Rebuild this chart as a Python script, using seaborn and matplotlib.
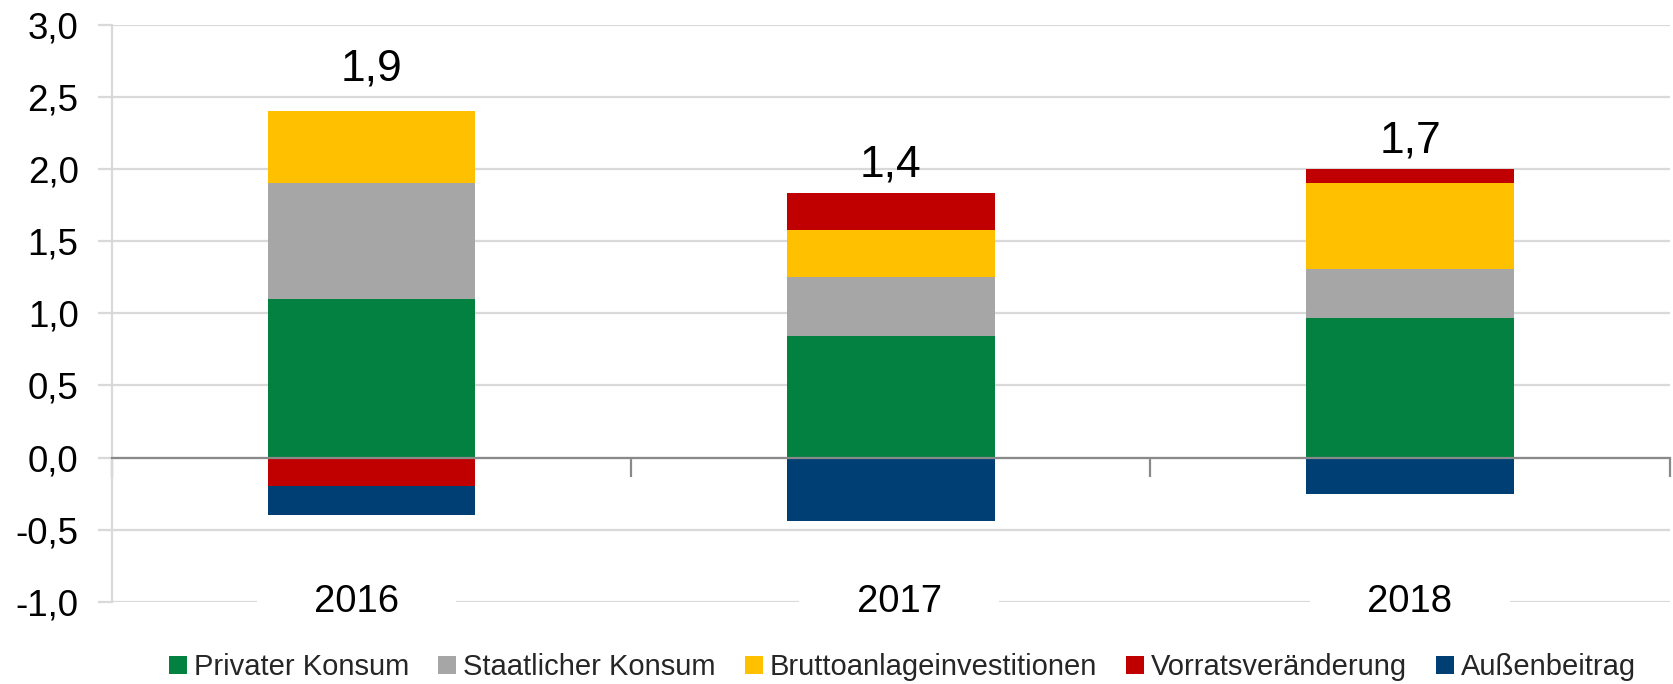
import numpy as np
import pandas as pd
import matplotlib
matplotlib.use("Agg")
import matplotlib.pyplot as plt
from matplotlib.lines import Line2D
import seaborn as sns

# ---- data ----
years = ["2016", "2017", "2018"]
series_names = ["Privater Konsum", "Staatlicher Konsum", "Bruttoanlageinvestitionen",
                "Vorratsveränderung", "Außenbeitrag"]
privater_konsum = [1.10, 0.84, 0.97]
staatlicher_konsum = [0.80, 0.41, 0.34]
bruttoanlageinvestitionen = [0.50, 0.33, 0.59]
vorratsveraenderung = [-0.20, 0.25, 0.10]
aussenbeitrag = [-0.20, -0.44, -0.25]
totals = [1.9, 1.4, 1.7]
y_ticks = [-1.0, -0.5, 0.0, 0.5, 1.0, 1.5, 2.0, 2.5, 3.0]

colors = ["#038141", "#a6a6a6", "#ffc000", "#c00000", "#003f74"]

sns.set_theme(style="white")
plt.rcParams["font.family"] = ["Liberation Sans", "DejaVu Sans"]

fig = plt.figure(figsize=(16.73, 6.84), dpi=100)
ax = fig.add_axes([0.0669, 0.12, 0.9311, 0.844])

values = [privater_konsum, staatlicher_konsum, bruttoanlageinvestitionen,
          vorratsveraenderung, aussenbeitrag]

# stacked edges (positives and negatives separately)
pos_cum = np.zeros(len(years))
neg_cum = np.zeros(len(years))
outer = []
for v in values:
    v = np.array(v)
    edge = np.where(v >= 0, pos_cum + v, neg_cum + v)
    pos_cum = np.where(v >= 0, pos_cum + v, pos_cum)
    neg_cum = np.where(v < 0, neg_cum + v, neg_cum)
    outer.append(edge)

# draw outermost first so inner segments overlay
for name, edge, col in reversed(list(zip(series_names, outer, colors))):
    df = pd.DataFrame({"Jahr": years, "Wert": edge})
    sns.barplot(data=df, x="Jahr", y="Wert", color=col, saturation=1,
                width=0.4, errorbar=None, linewidth=0, ax=ax, zorder=3)

ax.set_xlim(-0.5, 2.5)
ax.set_ylim(-1.0, 3.0)
ax.set_yticks(y_ticks)
ax.set_yticklabels([f"{t:.1f}".replace(".", ",") for t in y_ticks], fontsize=26.5)
ax.set_xlabel("")
ax.set_ylabel("")

# grid and spines
ax.yaxis.grid(True, color="#d9d9d9", linewidth=1.6, zorder=0)
ax.xaxis.grid(False)
ax.set_axisbelow(True)
for s in ["top", "right"]:
    ax.spines[s].set_visible(False)
ax.spines["left"].set_color("#d9d9d9")
ax.spines["left"].set_linewidth(1.6)
ax.spines["bottom"].set_position(("data", 0))
ax.spines["bottom"].set_color("#898989")
ax.spines["bottom"].set_linewidth(1.6)
ax.spines["bottom"].set_zorder(4)
ax.tick_params(axis="y", which="major", left=True, length=10, width=1.6,
               color="#d9d9d9", pad=14, labelcolor="black")
ax.set_xticks([0, 1, 2])
ax.set_xticklabels([])
ax.tick_params(axis="x", which="major", length=0)
ax.set_xticks([-0.5, 0.5, 1.5, 2.5], minor=True)
ax.tick_params(axis="x", which="minor", bottom=True, direction="out",
               length=14, width=1.6, color="#898989")

# category labels at the bottom, masking the -1.0 gridline
year_shift_pt = [-11, 6, 0]
for i, yr in enumerate(years):
    ax.annotate(" " * 5 + yr + " " * 5, xy=(i, -1.0), xytext=(year_shift_pt[i], 0),
                textcoords="offset points", ha="center", va="center",
                fontsize=27.5, color="black",
                bbox=dict(facecolor="white", edgecolor="none", pad=3), zorder=5)

# totals above the bars
label_offsets = [22, 12.5, 12]
for i, t in enumerate(totals):
    ax.annotate(f"{t:.1f}".replace(".", ","), xy=(i, pos_cum[i]),
                xytext=(0, label_offsets[i]), textcoords="offset points",
                ha="center", va="baseline", fontsize=32, color="black")

handles = [Line2D([0], [0], marker="s", linestyle="none", markersize=13,
                  markerfacecolor=c, markeredgewidth=0) for c in colors]
fig.legend(handles, series_names, loc="center", bbox_to_anchor=(0.5395, 0.025),
           ncol=5, frameon=False, fontsize=21, handlelength=0.6,
           handletextpad=0.25, columnspacing=1.0)

fig.savefig("out.png", dpi=100)
